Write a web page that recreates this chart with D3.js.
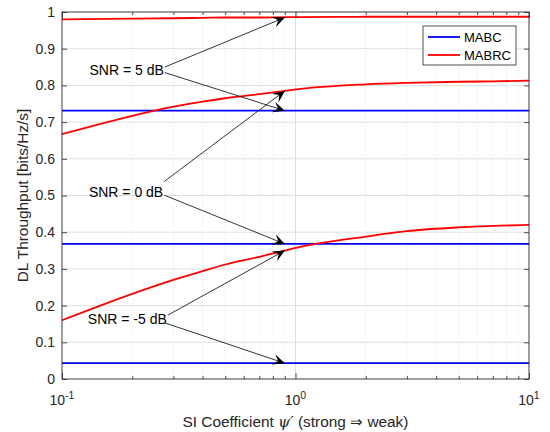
<!DOCTYPE html>
<html>
<head>
<meta charset="utf-8">
<script src="https://cdn.jsdelivr.net/npm/d3@7"></script>
<style>
  body { margin: 0; background: #fff; }
  svg text { font-family: "Liberation Sans", Arial, Helvetica, sans-serif; fill: #262626; }
</style>
</head>
<body>
<div id="chart"></div>
<script>
// data
var psi = [0.1, 0.2, 0.3, 0.4, 0.5, 0.7, 0.9, 1, 2, 3, 5, 7, 10];
var mabrc5 = [0.980, 0.982, 0.983, 0.984, 0.985, 0.985, 0.986, 0.986, 0.987, 0.987, 0.987, 0.987, 0.987];
var mabrc0 = [0.667, 0.717, 0.742, 0.756, 0.765, 0.776, 0.785, 0.789, 0.803, 0.807, 0.810, 0.811, 0.813];
var mabrcM5 = [0.160, 0.232, 0.270, 0.294, 0.312, 0.333, 0.350, 0.357, 0.388, 0.403, 0.413, 0.417, 0.420];
var mabc = [0.731, 0.368, 0.043];   // MABC for 5, 0, -5 dB (flat in psi)

var yTicks = [0, 0.1, 0.2, 0.3, 0.4, 0.5, 0.6, 0.7, 0.8, 0.9, 1];
var yTickLabels = ["0", "0.1", "0.2", "0.3", "0.4", "0.5", "0.6", "0.7", "0.8", "0.9", "1"];
var xTicks = [0.1, 1, 10];
var xTickExp = ["-1", "0", "1"];

// annotations: label, text position, arrow tails and heads (data coords)
var snrLabels = ["SNR = 5 dB", "SNR = 0 dB", "SNR = -5 dB"];
var snrTextY = [0.842, 0.510, 0.163];
var snrTails = [[[0.2755, 0.850], [0.2755, 0.835]],
                [[0.274, 0.538], [0.274, 0.501]],
                [[0.284, 0.174], [0.2755, 0.153]]];
var snrHeads = [[[0.9, 0.985], [0.9, 0.731]],
                [[0.9, 0.785], [0.9, 0.368]],
                [[0.9, 0.350], [0.9, 0.043]]];

var W = 550, H = 432;
var margin = {top: 12, right: 21, bottom: 53, left: 62};

var svg = d3.select("#chart").append("svg")
    .attr("width", W)
    .attr("height", H);

var x = d3.scaleLog().domain([0.1, 10]).range([margin.left, W - margin.right]);
var y = d3.scaleLinear().domain([0, 1]).range([H - margin.bottom, margin.top]);

var x0 = x.range()[0], x1 = x.range()[1], y0 = y.range()[0], y1 = y.range()[1];

// minor x values 2..9 per decade
var xMinor = [];
[0.1, 1].forEach(function(d) {
  for (var k = 2; k <= 9; k++) xMinor.push(d * k);
});

// background
svg.append("rect").attr("x", x0).attr("y", y1)
   .attr("width", x1 - x0).attr("height", y0 - y1).attr("fill", "#fff");

// minor grid (dotted)
svg.append("g").selectAll("line").data(xMinor).enter().append("line")
   .attr("x1", function(d) { return x(d); }).attr("x2", function(d) { return x(d); })
   .attr("y1", y0).attr("y2", y1)
   .attr("stroke", "#c8c8c8").attr("stroke-width", 0.6)
   .attr("stroke-dasharray", "1,3");

// major grid
svg.append("g").selectAll("line").data(yTicks.slice(1, -1)).enter().append("line")
   .attr("x1", x0).attr("x2", x1)
   .attr("y1", function(d) { return y(d); }).attr("y2", function(d) { return y(d); })
   .attr("stroke", "#dfdfdf").attr("stroke-width", 1);
svg.append("g").selectAll("line").data([1]).enter().append("line")
   .attr("x1", function(d) { return x(d); }).attr("x2", function(d) { return x(d); })
   .attr("y1", y0).attr("y2", y1)
   .attr("stroke", "#dfdfdf").attr("stroke-width", 1);

// lines
var line = d3.line()
    .x(function(d) { return x(d[0]); })
    .y(function(d) { return y(d[1]); })
    .curve(d3.curveMonotoneX);

var gLines = svg.append("g");
mabc.forEach(function(v) {
  gLines.append("path")
    .datum([[0.1, v], [10, v]])
    .attr("d", line)
    .attr("fill", "none").attr("stroke", "#0000ff").attr("stroke-width", 1.8);
});
[mabrc5, mabrc0, mabrcM5].forEach(function(s) {
  gLines.append("path")
    .datum(psi.map(function(p, i) { return [p, s[i]]; }))
    .attr("d", line)
    .attr("fill", "none").attr("stroke", "#ff0000").attr("stroke-width", 1.8);
});

// axes (ticks inward)
var axisColor = "#262626";
function styleAxis(g) {
  g.select(".domain").remove();
  g.selectAll(".tick line").attr("stroke", axisColor).attr("stroke-width", 0.8);
  g.selectAll(".tick text").remove();
}
svg.append("g").attr("transform", "translate(0," + y0 + ")")
   .call(d3.axisBottom(x).tickValues(xTicks).tickSize(-6).tickFormat("")).call(styleAxis);
svg.append("g").attr("transform", "translate(0," + y0 + ")")
   .call(d3.axisBottom(x).tickValues(xMinor).tickSize(-3).tickFormat("")).call(styleAxis);
svg.append("g").attr("transform", "translate(0," + y1 + ")")
   .call(d3.axisTop(x).tickValues(xTicks).tickSize(-6).tickFormat("")).call(styleAxis);
svg.append("g").attr("transform", "translate(0," + y1 + ")")
   .call(d3.axisTop(x).tickValues(xMinor).tickSize(-3).tickFormat("")).call(styleAxis);
svg.append("g").attr("transform", "translate(" + x0 + ",0)")
   .call(d3.axisLeft(y).tickValues(yTicks).tickSize(-5).tickFormat("")).call(styleAxis);
svg.append("g").attr("transform", "translate(" + x1 + ",0)")
   .call(d3.axisRight(y).tickValues(yTicks).tickSize(-5).tickFormat("")).call(styleAxis);

svg.append("rect").attr("x", x0).attr("y", y1)
   .attr("width", x1 - x0).attr("height", y0 - y1)
   .attr("fill", "none").attr("stroke", axisColor).attr("stroke-width", 0.9);

// tick labels
svg.append("g").selectAll("text").data(yTicks).enter().append("text")
   .attr("x", x0 - 7)
   .attr("y", function(d) { return y(d); })
   .attr("dy", "0.35em")
   .attr("text-anchor", "end")
   .attr("font-size", 14)
   .text(function(d, i) { return yTickLabels[i]; });

var xl = svg.append("g").selectAll("text").data(xTicks).enter().append("text")
   .attr("x", function(d) { return x(d); })
   .attr("y", y0 + 26)
   .attr("text-anchor", "middle")
   .attr("font-size", 14);
xl.append("tspan").text("10");
xl.append("tspan").attr("dy", -6).attr("font-size", 10.5)
  .text(function(d, i) { return xTickExp[i]; });

// axis titles
var xt = svg.append("text")
   .attr("x", (x0 + x1) / 2)
   .attr("y", H - 5)
   .attr("text-anchor", "middle")
   .attr("font-size", 15.4);
xt.append("tspan").text("SI Coefficient  ");
xt.append("tspan").attr("font-family", "DejaVu Serif, serif").attr("font-style", "italic").text("\u03c8\u2032");
xt.append("tspan").text("  (strong \u21d2 weak)");

svg.append("text")
   .attr("transform", "translate(28," + ((y0 + y1) / 2) + ") rotate(-90)")
   .attr("text-anchor", "middle")
   .attr("font-size", 15.4)
   .text("DL Throughput [bits/Hz/s]");

// annotations
svg.append("defs").append("marker")
   .attr("id", "head")
   .attr("viewBox", "-13 -6 14 12")
   .attr("refX", 0).attr("refY", 0)
   .attr("markerWidth", 14).attr("markerHeight", 12)
   .attr("markerUnits", "userSpaceOnUse")
   .attr("orient", "auto")
   .append("path")
   .attr("d", "M0,0 L-12,-5.5 L-7,0 L-12,5.5 Z")
   .attr("fill", "#000");

var gAnn = svg.append("g");
snrLabels.forEach(function(lab, i) {
  snrTails[i].forEach(function(t, j) {
    var h = snrHeads[i][j];
    gAnn.append("line")
      .attr("x1", x(t[0])).attr("y1", y(t[1]))
      .attr("x2", x(h[0])).attr("y2", y(h[1]))
      .attr("stroke", "#000").attr("stroke-width", 0.8)
      .attr("marker-end", "url(#head)");
  });
  gAnn.append("text")
    .attr("x", x(snrTails[i][0][0]) - 1)
    .attr("y", y(snrTextY[i]))
    .attr("dy", "0.35em")
    .attr("text-anchor", "end")
    .attr("font-size", 14)
    .style("fill", "#000")
    .text(lab);
});

// legend
var leg = svg.append("g").attr("transform", "translate(423,26)");
leg.append("rect").attr("width", 93).attr("height", 39)
   .attr("fill", "#fff").attr("stroke", axisColor).attr("stroke-width", 0.8);
var legNames = ["MABC", "MABRC"];
var legColors = ["#0000ff", "#ff0000"];
legNames.forEach(function(n, i) {
  var yy = 11 + i * 18;
  leg.append("line").attr("x1", 5).attr("x2", 37).attr("y1", yy).attr("y2", yy)
     .attr("stroke", legColors[i]).attr("stroke-width", 1.8);
  leg.append("text").attr("x", 41).attr("y", yy).attr("dy", "0.35em")
     .attr("font-size", 13).style("fill", "#000").text(n);
});
</script>
</body>
</html>
